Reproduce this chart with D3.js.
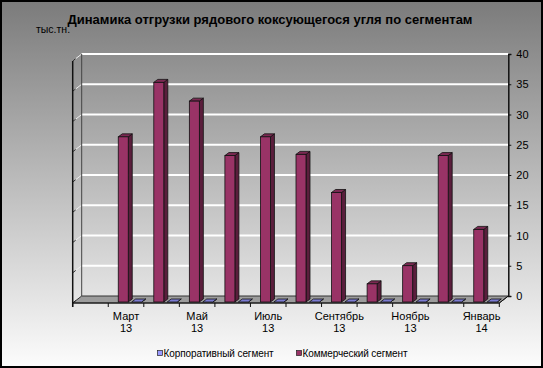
<!DOCTYPE html>
<html>
<head>
<meta charset="utf-8">
<script src="https://cdn.jsdelivr.net/npm/d3@7"></script>
<style>
  body { margin: 0; background: #fff; }
  svg text { font-family: "Liberation Sans", Arial, sans-serif; fill: #000; }
</style>
</head>
<body>
<div id="container"></div>
<script>
// Data
var months = ["Февраль 13", "Март 13", "Апрель 13", "Май 13", "Июнь 13", "Июль 13",
              "Август 13", "Сентябрь 13", "Октябрь 13", "Ноябрь 13", "Декабрь 13", "Январь 14"];
var corporate = [null, 0, 0, 0, 0, 0, 0, 0, 0, 0, 0, 0];
var commercial = [null, 27.3, 36.3, 33.2, 24.2, 27.3, 24.4, 18.1, 3.0, 6.0, 24.2, 12.0];
var yTicks = [0, 5, 10, 15, 20, 25, 30, 35, 40];
var seriesNames = ["Корпоративный сегмент", "Коммерческий сегмент"];

var width = 543,
    height = 368;

// depth of the 3d box: back wall -> front edge
var depthX = -9,
    depthY = 7;

var svg = d3.select("#container")
            .append("svg")
              .attr("width", width)
              .attr("height", height);

// background gradient
var defs = svg.append("defs");
var grad = defs.append("linearGradient")
               .attr("id", "bg")
               .attr("x1", 0).attr("y1", 0)
               .attr("x2", 0).attr("y2", 1);
grad.append("stop").attr("offset", "0%").attr("stop-color", "#7b7b7b");
grad.append("stop").attr("offset", "45%").attr("stop-color", "#b6b6b6");
grad.append("stop").attr("offset", "100%").attr("stop-color", "#fcfcfc");

svg.append("rect")
    .attr("x", 1).attr("y", 1)
    .attr("width", width - 2).attr("height", height - 2)
    .attr("fill", "url(#bg)")
    .attr("stroke", "#000")
    .attr("stroke-width", 2);

// scales on the back wall
var x = d3.scaleBand()
          .domain(months)
          .range([81.7, 508.3]);

var y = d3.scaleLinear()
          .domain([0, 40])
          .range([296, 54]);

var left = x.range()[0],
    right = x.range()[1];

// floor
svg.append("path")
    .attr("d", "M" + left + "," + y(0) + "L" + right + "," + y(0) +
               "L" + (right + depthX) + "," + (y(0) + depthY) +
               "L" + (left + depthX) + "," + (y(0) + depthY) + "Z")
    .attr("fill", "#9c9c9c")
    .attr("stroke", "#333")
    .attr("stroke-width", 1);

// gridlines on back wall
svg.selectAll(".grid")
    .data(yTicks.slice(1))
    .enter()
    .append("line")
      .attr("x1", left).attr("x2", right)
      .attr("y1", function(d) { return y(d); })
      .attr("y2", function(d) { return y(d); })
      .attr("stroke", "#fff")
      .attr("stroke-width", 2);

// gridlines on side wall
svg.selectAll(".sidegrid")
    .data(yTicks.slice(1))
    .enter()
    .append("line")
      .attr("x1", left).attr("x2", left + depthX)
      .attr("y1", function(d) { return y(d); })
      .attr("y2", function(d) { return y(d) + depthY; })
      .attr("stroke", "#eee")
      .attr("stroke-width", 1);

// small ticks at front edge of side wall
svg.selectAll(".sidetick")
    .data(yTicks)
    .enter()
    .append("line")
      .attr("x1", left + depthX).attr("x2", left + depthX + 3)
      .attr("y1", function(d) { return y(d) + depthY; })
      .attr("y2", function(d) { return y(d) + depthY - 2.3; })
      .attr("stroke", "#222")
      .attr("stroke-width", 1);

// back wall left edge
svg.append("line")
    .attr("x1", left).attr("x2", left)
    .attr("y1", y(40)).attr("y2", y(0))
    .attr("stroke", "#444")
    .attr("stroke-width", 1);

// side wall front edge
svg.append("line")
    .attr("x1", left + depthX).attr("x2", left + depthX)
    .attr("y1", y(40) + depthY).attr("y2", y(0) + depthY + 4)
    .attr("stroke", "#111")
    .attr("stroke-width", 1.5);

// right value axis
var yAxis = d3.axisRight(y)
              .tickValues(yTicks)
              .tickSize(3)
              .tickPadding(5);

var gy = svg.append("g")
            .attr("transform", "translate(" + right + ",0)")
            .call(yAxis);
gy.select(".domain").attr("stroke", "#111").attr("stroke-width", 1.5);
gy.selectAll(".tick line").attr("stroke", "#111");
gy.selectAll(".tick text")
    .attr("font-size", "11px")
    .attr("font-family", "'Liberation Sans', Arial, sans-serif")
    .attr("fill", "#000");

// diagonal at bottom right of axis
svg.append("line")
    .attr("x1", right).attr("y1", y(0))
    .attr("x2", right + depthX).attr("y2", y(0) + depthY)
    .attr("stroke", "#111");

// bars: front face shifted forward from the back wall
var barShiftY = 6;
var barW = 10,
    barDx = 4,
    barDy = 3;

function barGroup(values, offset, colors) {
  var g = svg.append("g");
  values.forEach(function(v, i) {
    if (v === null) return;
    var x0 = x(months[i]) + offset;
    var yTop = y(v) + barShiftY;
    var yBot = y(0) + barShiftY;
    // right side
    g.append("path")
      .attr("d", "M" + (x0 + barW) + "," + yTop + "L" + (x0 + barW + barDx) + "," + (yTop - barDy) +
                 "L" + (x0 + barW + barDx) + "," + (yBot - barDy) + "L" + (x0 + barW) + "," + yBot + "Z")
      .attr("fill", colors[1])
      .attr("stroke", "#111")
      .attr("stroke-width", 0.8);
    // top
    g.append("path")
      .attr("d", "M" + x0 + "," + yTop + "L" + (x0 + barDx) + "," + (yTop - barDy) +
                 "L" + (x0 + barW + barDx) + "," + (yTop - barDy) + "L" + (x0 + barW) + "," + yTop + "Z")
      .attr("fill", colors[2])
      .attr("stroke", "#111")
      .attr("stroke-width", 0.8);
    // front
    if (yBot - yTop > 0.5) {
      g.append("rect")
        .attr("x", x0).attr("y", yTop)
        .attr("width", barW).attr("height", yBot - yTop)
        .attr("fill", colors[0])
        .attr("stroke", "#111")
        .attr("stroke-width", 0.8);
    }
  });
}

barGroup(corporate, 14.4, ["#9999ff", "#5c5c99", "#7b7bd0"]);
barGroup(commercial, 1.0, ["#993366", "#5a1e3c", "#7a2952"]);

// category axis at front edge of the floor
var xFront = d3.scaleBand()
               .domain(months)
               .range([left + depthX, right + depthX]);

var frontY = y(0) + depthY;

svg.append("line")
    .attr("x1", left + depthX).attr("x2", right + depthX)
    .attr("y1", frontY).attr("y2", frontY)
    .attr("stroke", "#111")
    .attr("stroke-width", 1.2);

var tickXs = months.map(function(m) { return xFront(m); }).concat([right + depthX]);
svg.selectAll(".xtick")
    .data(tickXs)
    .enter()
    .append("line")
      .attr("x1", function(d) { return d; })
      .attr("x2", function(d) { return d; })
      .attr("y1", frontY).attr("y2", frontY + 4)
      .attr("stroke", "#111");

var labels = svg.selectAll(".xlabel")
    .data(months.filter(function(m, i) { return i % 2 === 1; }))
    .enter()
    .append("text")
      .attr("text-anchor", "middle")
      .attr("font-size", "11px")
      .attr("transform", function(d) { return "translate(" + (xFront(d) + xFront.bandwidth() / 2) + ",320)"; });
labels.append("tspan")
      .attr("x", 0).attr("y", 0)
      .text(function(d) { return d.split(" ")[0]; });
labels.append("tspan")
      .attr("x", 0).attr("y", 11.5)
      .text(function(d) { return d.split(" ")[1]; });

// title and unit
svg.append("text")
    .attr("x", 270).attr("y", 24)
    .attr("text-anchor", "middle")
    .attr("font-size", "13px")
    .attr("font-weight", "bold")
    .text("Динамика отгрузки рядового коксующегося угля по сегментам");

svg.append("text")
    .attr("x", 36).attr("y", 33)
    .attr("font-size", "10.5px")
    .text("тыс.тн.");

// legend
var legendColors = ["#9999ff", "#993366"];
var legendX = [157.5, 296.5];
var legend = svg.selectAll(".legend")
    .data(seriesNames)
    .enter()
    .append("g")
      .attr("transform", function(d, i) { return "translate(" + legendX[i] + ",353)"; });
legend.append("rect")
    .attr("x", 0).attr("y", -2.5)
    .attr("width", 5).attr("height", 5)
    .attr("fill", function(d, i) { return legendColors[i]; })
    .attr("stroke", "#222")
    .attr("stroke-width", 0.7);
legend.append("text")
    .attr("x", 6).attr("y", 3.5)
    .attr("font-size", "10px")
    .attr("letter-spacing", "-0.1px")
    .text(function(d) { return d; });
</script>
</body>
</html>
